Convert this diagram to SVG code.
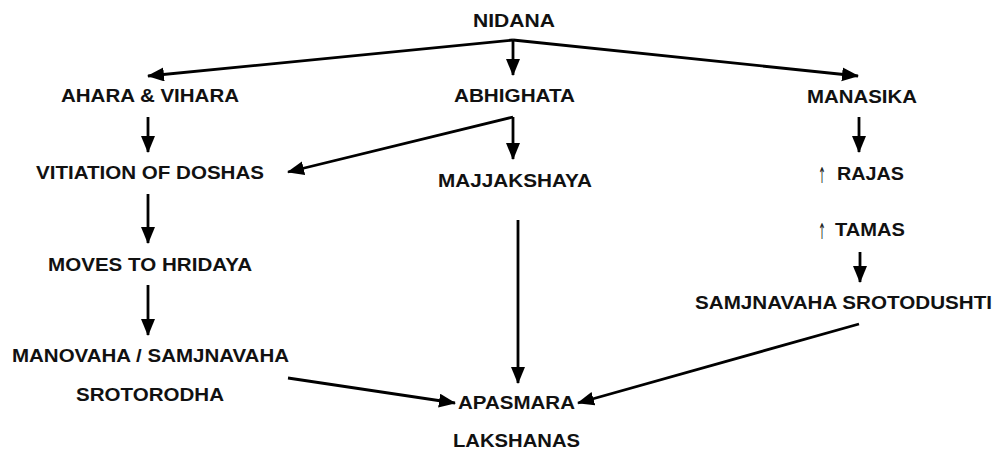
<svg xmlns="http://www.w3.org/2000/svg" width="995" height="450" viewBox="0 0 995 450">
<style>
text{font-family:"Liberation Sans",Arial,sans-serif;font-weight:bold;font-size:18.5px;fill:#111;text-anchor:middle}
.up{font-family:"DejaVu Sans",sans-serif;font-weight:normal;font-size:22px;fill:#222}
.c{stroke:#000;stroke-width:2.8;fill:none;marker-end:url(#ah)}
</style>
<defs>
<marker id="ah" markerUnits="userSpaceOnUse" markerWidth="18" markerHeight="15" refX="16" refY="7" orient="auto">
<path d="M0,0 L17,7 L0,14 z" fill="#000"/>
</marker>
</defs>
<rect width="995" height="450" fill="#fff"/>
<g id="connectors">
<line class="c" x1="513" y1="40" x2="148" y2="76"/>
<line class="c" x1="513" y1="40" x2="513" y2="75"/>
<line class="c" x1="513" y1="40" x2="858" y2="76"/>
<line class="c" x1="148" y1="117" x2="148" y2="152"/>
<line class="c" x1="513" y1="117" x2="288" y2="172"/>
<line class="c" x1="513" y1="117" x2="513" y2="159"/>
<line class="c" x1="859" y1="117" x2="859" y2="152"/>
<line class="c" x1="148" y1="194" x2="148" y2="243"/>
<line class="c" x1="148" y1="285" x2="148" y2="335"/>
<line class="c" x1="860" y1="252" x2="860" y2="282"/>
<line class="c" x1="518" y1="220" x2="518" y2="383"/>
<line class="c" x1="288" y1="378" x2="455" y2="403"/>
<line class="c" x1="859" y1="324" x2="578" y2="403"/>
</g>
<g id="nidana"><text x="514" y="27" textLength="82" lengthAdjust="spacingAndGlyphs">NIDANA</text></g>
<g id="ahara"><text x="150" y="102" textLength="178" lengthAdjust="spacingAndGlyphs">AHARA &amp; VIHARA</text></g>
<g id="abhighata"><text x="514.5" y="102" textLength="121" lengthAdjust="spacingAndGlyphs">ABHIGHATA</text></g>
<g id="manasika"><text x="862" y="103" textLength="110" lengthAdjust="spacingAndGlyphs">MANASIKA</text></g>
<g id="vitiation"><text x="150" y="179" textLength="228" lengthAdjust="spacingAndGlyphs">VITIATION OF DOSHAS</text></g>
<g id="majjakshaya"><text x="515" y="187" textLength="154" lengthAdjust="spacingAndGlyphs">MAJJAKSHAYA</text></g>
<g id="rajas"><text class="up" x="822" y="183" textLength="8" lengthAdjust="spacingAndGlyphs">↑</text><text x="870.5" y="180" textLength="67" lengthAdjust="spacingAndGlyphs">RAJAS</text></g>
<g id="tamas"><text class="up" x="822" y="239" textLength="8" lengthAdjust="spacingAndGlyphs">↑</text><text x="870" y="236" textLength="70" lengthAdjust="spacingAndGlyphs">TAMAS</text></g>
<g id="samjnavaha"><text x="843.5" y="309" textLength="297" lengthAdjust="spacingAndGlyphs">SAMJNAVAHA SROTODUSHTI</text></g>
<g id="moves"><text x="150" y="271" textLength="204" lengthAdjust="spacingAndGlyphs">MOVES TO HRIDAYA</text></g>
<g id="manovaha"><text x="150.5" y="362" textLength="277" lengthAdjust="spacingAndGlyphs">MANOVAHA / SAMJNAVAHA</text><text x="150" y="401" textLength="148" lengthAdjust="spacingAndGlyphs">SROTORODHA</text></g>
<g id="apasmara"><text x="516.5" y="409" textLength="117" lengthAdjust="spacingAndGlyphs">APASMARA</text><text x="516.5" y="447" textLength="127" lengthAdjust="spacingAndGlyphs">LAKSHANAS</text></g>
</svg>
